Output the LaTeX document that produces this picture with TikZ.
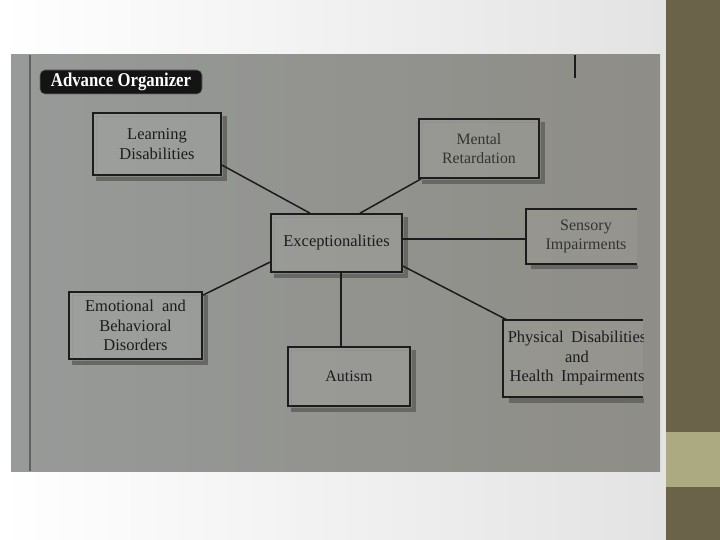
\documentclass[tikz,border=0pt]{standalone}
\usepackage{fontspec}
\setmainfont{Liberation Serif}
\newfontfamily\tagfont[FakeStretch=0.86]{Liberation Serif}
\usetikzlibrary{calc}
\definecolor{photoL}{HTML}{979A98}
\definecolor{photoR}{HTML}{8E8D87}
\definecolor{shadowc}{HTML}{676864}
\definecolor{ink}{HTML}{1C1C1C}
\definecolor{fadedink}{HTML}{333432}
\definecolor{olive}{HTML}{6A634A}
\definecolor{olivelt}{HTML}{ACAA80}
\definecolor{pageline}{HTML}{5C625E}
\newcommand\boxshadow[1]{%
  \fill[shadowc,even odd rule] ($(#1.north west)+(4,4)$) rectangle ($(#1.south east)+(5,5)$)
    ($(#1.north west)+(4,4)$) rectangle ($(#1.south east)+(0.8,0.8)$);}
\begin{document}
\begin{tikzpicture}[x=1pt,y=-1pt,
  topic/.style={draw=ink, line width=1.6pt, fill=white, fill opacity=0.06, text opacity=1,
    text=ink, inner sep=0pt, align=center, font=\fontsize{16.5}{19.5}\selectfont},
  opentopic/.style={inner sep=0pt, align=center, text=fadedink, font=\fontsize{16}{19.5}\selectfont},
  boxline/.style={draw=ink, line width=1.6pt},
  link/.style={draw=ink, line width=1.5pt}
]
\useasboundingbox (0,0) rectangle (720,540);
% slide background
\shade[left color=white, right color=black!11] (0,0) rectangle (666,540);
\fill[olive] (666,0) rectangle (720,540);
\fill[olivelt] (666,432) rectangle (720,487);
% photo of the page
\shade[left color=photoL, right color=photoR] (11,55) rectangle (660,471);
\draw[pageline, line width=1.5pt] (30,55) -- (30,471);
\draw[ink, line width=1.2pt] (575,55) -- (575,78);
% title tag
\node[fill=black!92, draw=black!60, line width=0.6pt, rounded corners=5pt, text=white, inner sep=0pt,
  minimum width=162pt, minimum height=24pt, font=\fontsize{19.5}{19.5}\tagfont\bfseries]
  (ao) at (121,82) {Advance Organizer};
% closed boxes
\node[topic, minimum width=128pt, minimum height=62pt] (ld) at (157,144) {Learning\\Disabilities};
\boxshadow{ld}
\node[topic, text=fadedink, font=\fontsize{15.8}{19}\selectfont, minimum width=120pt, minimum height=59pt] (mr) at (479,148.5) {Mental\\Retardation};
\boxshadow{mr}
\node[topic, minimum width=131pt, minimum height=58pt] (exc) at (336.5,243) {Exceptionalities};
\boxshadow{exc}
\node[topic, minimum width=133pt, minimum height=67pt] (ebd) at (135.5,325.5) {Emotional\hspace{0.25em} and\\Behavioral\\Disorders};
\boxshadow{ebd}
\node[topic, font=\fontsize{16}{19.5}\selectfont, minimum width=122pt, minimum height=59pt] (aut) at (349,376.5) {Autism};
\boxshadow{aut}
% open boxes cut by the page edge
\fill[white, opacity=0.06] (526,209) rectangle (637,264);
\node[opentopic, minimum width=120pt, minimum height=55pt] (si) at (586,236.5) {Sensory\\Impairments};
\fill[shadowc] ($(si.south west)+(5,0.8)$) rectangle ($(si.south west)+(112,5)$);
\draw[boxline] ($(si.north west)+(111,0)$) -- (si.north west) -- (si.south west) -- ($(si.south west)+(111,0)$);
\fill[white, opacity=0.06] (503,320) rectangle (643,397);
\begin{scope}
  \clip (503,300) rectangle (643,400);
  \node[opentopic, text=ink, font=\fontsize{16.5}{19.5}\selectfont, minimum width=148pt, minimum height=77pt] (pd) at (577,358.5)
    {Physical\hspace{0.2em} Disabilities\\and\\Health\hspace{0.2em} Impairments};
\end{scope}
\fill[shadowc] ($(pd.south west)+(6,0.8)$) rectangle ($(pd.south west)+(141,5.5)$);
\draw[boxline] ($(pd.north west)+(140,0)$) -- (pd.north west) -- (pd.south west) -- ($(pd.south west)+(140,0)$);
% connectors
\draw[link] ($(ld.east)+(0,21)$) -- ($(exc.north)+(-26.5,0)$);
\draw[link] ($(mr.south west)+(3,0)$) -- ($(exc.north)+(23.5,0)$);
\coordinate (sia) at ($(exc.east)+(0,-4)$);
\draw[link] (sia) -- (sia -| si.west);
\draw[link] ($(exc.west)+(0,19)$) -- ($(ebd.north east)+(0,4)$);
\coordinate (auta) at ($(exc.south)+(4.5,0)$);
\draw[link] (auta) -- (auta |- aut.north);
\draw[link] ($(exc.east)+(0,23)$) -- ($(pd.north west)+(4,0)$);
\end{tikzpicture}
\end{document}
